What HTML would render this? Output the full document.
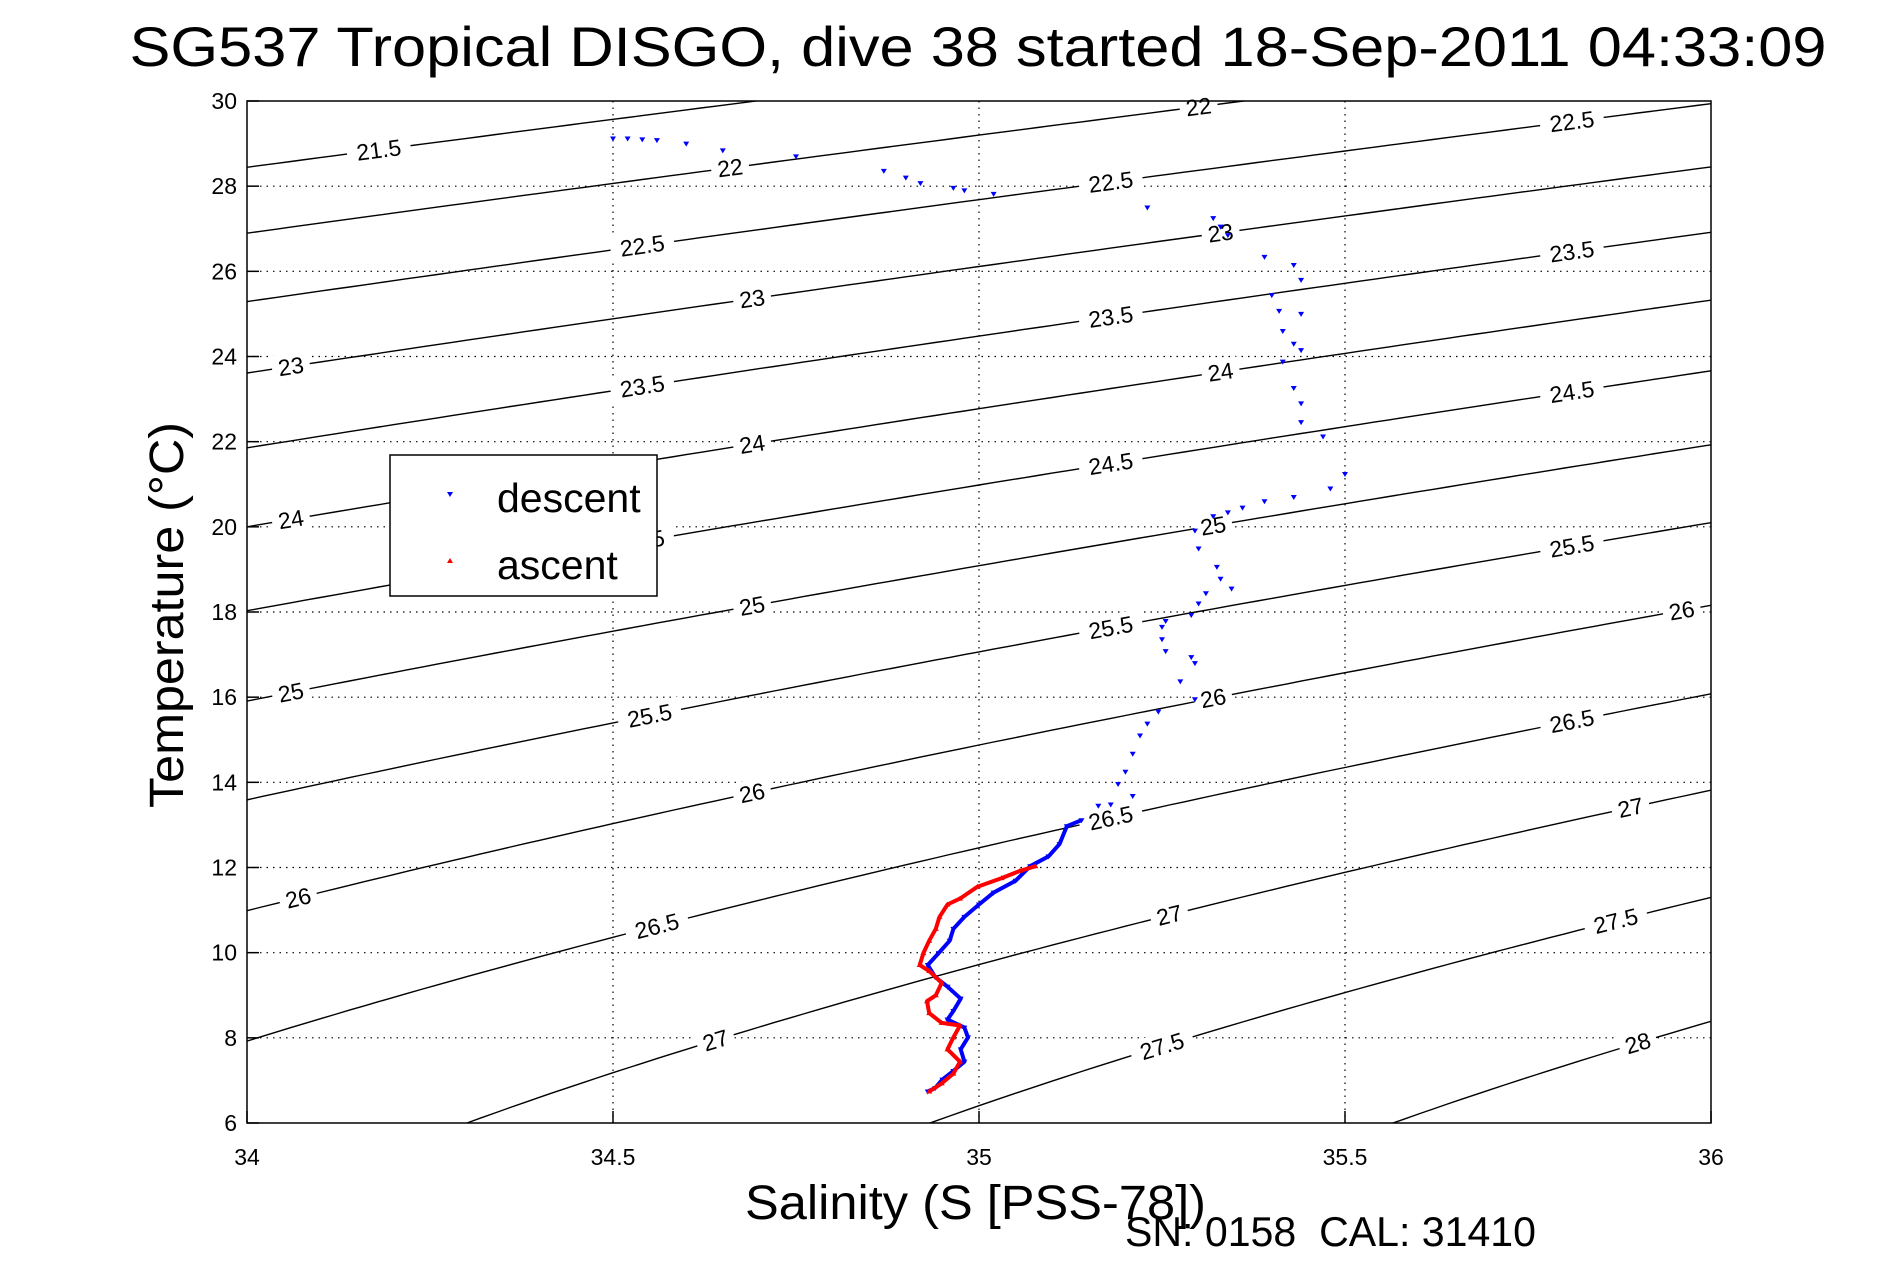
<!DOCTYPE html>
<html><head><meta charset="utf-8"><style>html,body{margin:0;padding:0;background:#fff;overflow:hidden;width:1891px;height:1262px}svg{display:block}text{font-family:"Liberation Sans",sans-serif}</style></head>
<body>
<svg id="chart" width="1891" height="1262" xmlns="http://www.w3.org/2000/svg">
<defs><clipPath id="clip"><rect x="247" y="101" width="1464" height="1022"/></clipPath></defs>
<rect width="1891" height="1262" fill="#fff"/>
<text x="978" y="66" font-size="56" text-anchor="middle" textLength="1697" lengthAdjust="spacingAndGlyphs">SG537 Tropical DISGO, dive 38 started 18-Sep-2011 04:33:09</text>
<g id="grid"></g>
<g id="contours" clip-path="url(#clip)"></g>
<g id="labels"></g>
<g id="series" clip-path="url(#clip)"></g>
<rect x="247" y="101" width="1464" height="1022" fill="none" stroke="#000" stroke-width="1.5"/>
<g id="ticks"></g>
<text x="745" y="1219" font-size="48" textLength="461" lengthAdjust="spacingAndGlyphs">Salinity (S [PSS-78])</text>
<text transform="translate(183,615) rotate(-90)" font-size="48" text-anchor="middle" textLength="386" lengthAdjust="spacingAndGlyphs">Temperature (°C)</text>
<text x="1125" y="1246" font-size="42" textLength="411" lengthAdjust="spacingAndGlyphs" xml:space="preserve">SN: 0158  CAL: 31410</text>
<g>
<rect x="390" y="455" width="267" height="141" fill="#fff" stroke="#000" stroke-width="1.5"/>
<path d="M447,492 L453,492 L450,497 Z" fill="#00f"/>
<text x="497" y="512" font-size="41">descent</text>
<path d="M447,563 L453,563 L450,558 Z" fill="#f00"/>
<text x="497" y="579" font-size="41">ascent</text>
</g>
</svg>
<script>
const xTicks=[34,34.5,35,35.5,36];
const yTicks=[6,8,10,12,14,16,18,20,22,24,26,28,30];
const levels=[21.5,22,22.5,23,23.5,24,24.5,25,25.5,26,26.5,27,27.5,28];
const labelLevels=[21.5,22,22,22.5,22.5,22.5,23,23,23,23.5,23.5,23.5,24,24,24,24.5,24.5,24.5,25,25,25,25.5,25.5,25.5,26,26,26,26,26.5,26.5,26.5,27,27,27,27.5,27.5,28];
const labelSal=[34.18,34.66,35.30,34.54,35.18,35.81,34.06,34.69,35.33,34.54,35.18,35.81,34.06,34.69,35.33,34.54,35.18,35.81,34.06,34.69,35.32,34.55,35.18,35.81,34.07,34.69,35.32,35.96,34.56,35.18,35.81,34.64,35.26,35.89,35.25,35.87,35.90];
const descS=[34.50,34.52,34.54,34.56,34.60,34.65,34.75,34.87,34.90,34.92,34.965,34.98,35.02,35.23,35.32,35.33,35.34,35.39,35.43,35.44,35.40,35.41,35.44,35.415,35.43,35.44,35.415,35.43,35.44,35.44,35.47,35.50,35.48,35.43,35.39,35.36,35.34,35.32,35.295,35.30,35.325,35.33,35.345,35.31,35.30,35.29,35.255,35.25,35.25,35.255,35.29,35.295,35.275,35.295,35.245,35.23,35.22,35.21,35.20,35.19,35.21,35.18,35.163,35.14,35.12,35.11,35.095,35.07,35.05,35.02,35.0,34.98,34.965,34.96,34.945,34.93,34.94,34.957,34.975,34.965,34.957,34.98,34.985,34.975,34.98,34.965,34.95,34.94,34.93];
const descT=[29.12,29.12,29.10,29.08,29.0,28.84,28.70,28.36,28.2,28.07,27.96,27.9,27.82,27.5,27.25,27.05,26.85,26.34,26.15,25.8,25.44,25.07,25.0,24.6,24.3,24.15,23.88,23.26,22.9,22.46,22.12,21.24,20.9,20.7,20.6,20.45,20.34,20.25,19.91,19.49,19.06,18.78,18.55,18.44,18.2,17.93,17.79,17.65,17.36,17.08,16.94,16.8,16.37,15.95,15.66,15.38,15.1,14.67,14.25,13.96,13.68,13.48,13.45,13.11,12.97,12.55,12.26,12.03,11.69,11.41,11.13,10.84,10.56,10.28,9.99,9.71,9.43,9.2,8.92,8.63,8.43,8.24,8.01,7.73,7.44,7.22,7.02,6.82,6.74];
const ascS=[34.932,34.949,34.965,34.974,34.957,34.965,34.974,34.949,34.932,34.929,34.941,34.949,34.932,34.919,34.924,34.932,34.941,34.946,34.957,34.974,34.998,35.031,35.056,35.077];
const ascT=[6.74,6.93,7.16,7.44,7.73,8.01,8.29,8.35,8.58,8.86,9.0,9.29,9.57,9.71,9.99,10.28,10.56,10.84,11.13,11.27,11.55,11.75,11.92,12.03];

const NS='http://www.w3.org/2000/svg';
const X0=247,X1=1711,Y0=1123,Y1=101;
function sx(s){return X0+(s-34)/2*(X1-X0);}
function ty(t){return Y0-(t-6)/24*(Y0-Y1);}
function mk(tag,attrs,parent){const e=document.createElementNS(NS,tag);for(const k in attrs)e.setAttribute(k,attrs[k]);parent.appendChild(e);return e;}
function sigma(S,T){
 const rw=999.842594+6.793952e-2*T-9.095290e-3*T*T+1.001685e-4*T**3-1.120083e-6*T**4+6.536332e-9*T**5;
 const A=8.24493e-1-4.0899e-3*T+7.6438e-5*T*T-8.2467e-7*T**3+5.3875e-9*T**4;
 const B=-5.72466e-3+1.0227e-4*T-1.6546e-6*T*T;
 return rw+A*S+B*Math.pow(S,1.5)+4.8314e-4*S*S-1000;}
function tempAt(S,lev){let lo=-5,hi=45;for(let i=0;i<50;i++){const m=(lo+hi)/2;if(sigma(S,m)>lev)lo=m;else hi=m;}return (lo+hi)/2;}

const grid=document.getElementById('grid'),ticks=document.getElementById('ticks');
xTicks.forEach(v=>{
 if(v>34&&v<36){const l=mk('line',{x1:sx(v),x2:sx(v),y1:Y1,y2:Y0,stroke:'#000','stroke-width':1.2,'stroke-dasharray':'1.5 5'},grid);
 
 }
 const a=mk('line',{x1:sx(v),x2:sx(v),y1:Y0,y2:Y0-12,stroke:'#000','stroke-width':1.5},ticks);
 
 
 const t=mk('text',{x:sx(v),y:Y0+42,'font-size':23,'text-anchor':'middle'},ticks);t.textContent=v;
 
 
});
yTicks.forEach(v=>{
 if(v>6&&v<30){const l=mk('line',{x1:X0,x2:X1,y1:ty(v),y2:ty(v),stroke:'#000','stroke-width':1.2,'stroke-dasharray':'1.5 5'},grid);
 
 }
 const a=mk('line',{x1:X0,x2:X0+12,y1:ty(v),y2:ty(v),stroke:'#000','stroke-width':1.5},ticks);
 
 
 const t=mk('text',{x:X0-10,y:ty(v)+8,'font-size':23,'text-anchor':'end'},ticks);t.textContent=v;
 
 
});
const cg=document.getElementById('contours');
levels.forEach(lev=>{
 let d='';for(let s=34;s<=36.0001;s+=0.02){d+=(d?'L':'M')+sx(s).toFixed(1)+','+ty(tempAt(s,lev)).toFixed(1);}
 const p=mk('path',{d:d,fill:'none',stroke:'#000','stroke-width':1.4},cg);
 
 
});
const lg=document.getElementById('labels');
labelLevels.forEach((lev,i)=>{
 const s=labelSal[i],x=sx(s),y=ty(tempAt(s,lev));
 const y2=ty(tempAt(s+0.02,lev)),ang=Math.atan2(y2-y,sx(s+0.02)-x)*180/Math.PI;
 const g=mk('g',{transform:`translate(${x.toFixed(1)},${y.toFixed(1)}) rotate(${ang.toFixed(2)})`},lg);
 
 
 const w=String(lev).length*13+12;
 mk('rect',{x:-w/2,y:-13,width:w,height:26,fill:'#fff'},g);
 const t=mk('text',{x:0,y:8,'font-size':23,'text-anchor':'middle'},g);t.textContent=lev;
});
const sg=document.getElementById('series');
function series(S,T,color,down,name){
 const g=mk('g',{},sg);
 
 
 S.forEach((s,i)=>{
  const x=sx(s),y=ty(T[i]);
  const d=down?`M${x-3},${y-2}L${x+3},${y-2}L${x},${y+3}Z`:`M${x-3},${y+2}L${x+3},${y+2}L${x},${y-3}Z`;
  const p=mk('path',{d:d,fill:color},g);
  
  
 });
}
function trace(S,T,color,name,tmax){
 let d='';S.forEach((s,i)=>{if(T[i]<=tmax)d+=(d?'L':'M')+sx(s).toFixed(1)+','+ty(T[i]).toFixed(1);});
 const p=mk('path',{d:d,fill:'none',stroke:color,'stroke-width':4,'stroke-linejoin':'round'},sg);
 
 
}
trace(descS,descT,'#00f','descent',13.2);
series(descS,descT,'#00f',true,'descent');
trace(ascS,ascT,'#f00','ascent',12.1);
series(ascS,ascT,'#f00',false,'ascent');
</script>
</body></html>
